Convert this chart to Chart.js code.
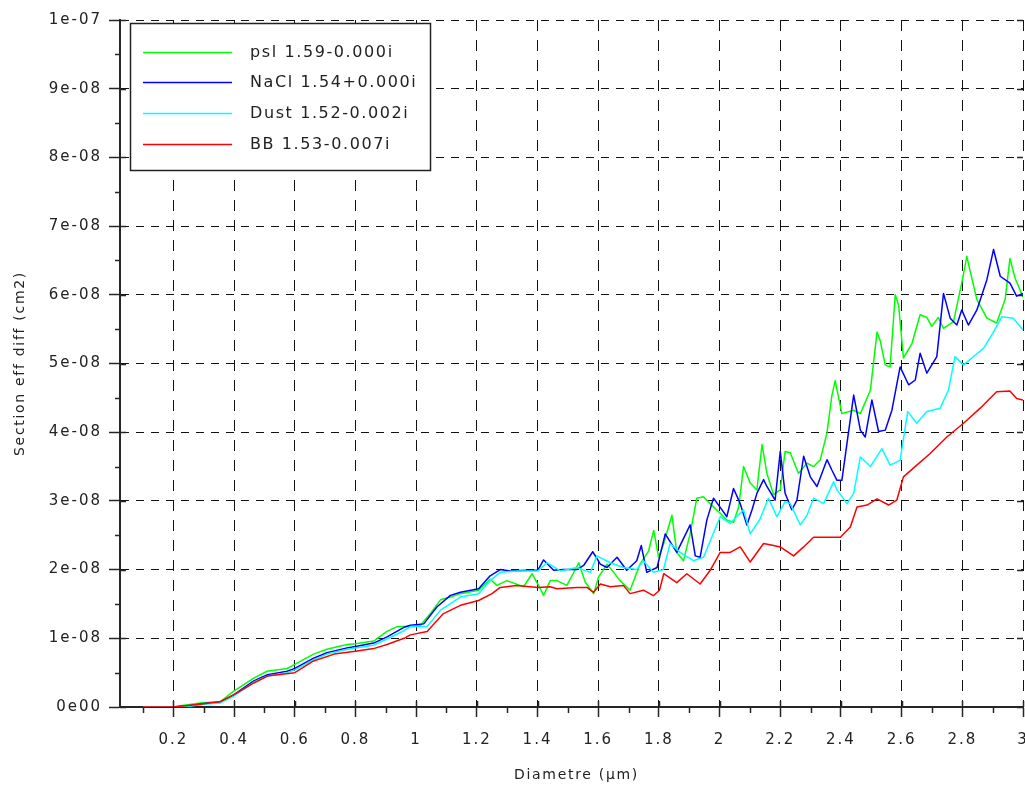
<!DOCTYPE html>
<html><head><meta charset="utf-8">
<script src="https://cdn.jsdelivr.net/npm/chart.js@4.4.1/dist/chart.umd.min.js"></script>
<style>html,body{margin:0;padding:0;background:#fff;overflow:hidden}canvas{display:block}</style>
</head><body>
<canvas id="c" width="1025" height="787"></canvas>
<script>
// ---- data (y values in units of 1e-8 cm2, as on the axis) ----
const seriesNames = ['psl 1.59-0.000i', 'NaCl 1.54+0.000i', 'Dust 1.52-0.002i', 'BB 1.53-0.007i'];
const seriesColors = ['#00ff00', '#0000ff', '#00ffff', '#ff0000'];

const pslData = [[0.1,0],[0.2,0],[0.223,0.02],[0.289,0.06],[0.355,0.08],[0.399,0.23],[0.465,0.42],[0.509,0.52],[0.575,0.56],[0.6,0.62],[0.662,0.77],[0.706,0.84],[0.772,0.91],[0.8,0.92],[0.86,0.96],[0.904,1.1],[0.937,1.17],[0.981,1.17],[1.014,1.19],[1.047,1.36],[1.080,1.56],[1.113,1.6],[1.146,1.65],[1.206,1.70],[1.244,1.86],[1.266,1.77],[1.299,1.84],[1.354,1.75],[1.382,1.94],[1.401,1.79],[1.420,1.625],[1.442,1.84],[1.464,1.84],[1.497,1.77],[1.536,2.1],[1.557,1.82],[1.585,1.65],[1.601,1.89],[1.629,2.08],[1.651,1.96],[1.672,1.84],[1.705,1.70],[1.738,2.08],[1.766,2.27],[1.783,2.57],[1.799,2.18],[1.816,2.38],[1.843,2.79],[1.859,2.25],[1.881,2.13],[1.903,2.52],[1.925,3.04],[1.947,3.06],[1.969,2.96],[2.002,2.82],[2.024,2.72],[2.046,2.69],[2.063,2.91],[2.079,3.5],[2.101,3.26],[2.123,3.16],[2.140,3.82],[2.156,3.40],[2.178,3.09],[2.200,3.16],[2.216,3.72],[2.233,3.70],[2.260,3.40],[2.288,3.55],[2.310,3.50],[2.332,3.60],[2.354,3.99],[2.370,4.53],[2.381,4.75],[2.403,4.27],[2.442,4.32],[2.464,4.27],[2.497,4.61],[2.519,5.46],[2.529,5.34],[2.546,4.98],[2.562,4.95],[2.579,6.0],[2.590,5.85],[2.606,5.08],[2.634,5.29],[2.661,5.71],[2.683,5.67],[2.699,5.54],[2.721,5.67],[2.738,5.51],[2.771,5.61],[2.798,6.17],[2.815,6.56],[2.826,6.34],[2.848,5.93],[2.881,5.66],[2.913,5.59],[2.941,5.93],[2.957,6.53],[2.974,6.24],[3.0,5.97]];

const naclData = [[0.1,0],[0.2,0],[0.25,0.02],[0.3,0.05],[0.355,0.07],[0.4,0.18],[0.465,0.38],[0.51,0.47],[0.575,0.52],[0.6,0.56],[0.662,0.71],[0.706,0.79],[0.772,0.86],[0.8,0.88],[0.86,0.93],[0.904,1.02],[0.96,1.16],[0.981,1.19],[1.025,1.21],[1.069,1.46],[1.113,1.625],[1.146,1.67],[1.206,1.72],[1.244,1.91],[1.277,2.0],[1.31,1.98],[1.365,1.99],[1.401,1.99],[1.420,2.14],[1.453,1.99],[1.486,2.0],[1.53,2.0],[1.552,2.06],[1.582,2.26],[1.607,2.08],[1.629,2.03],[1.662,2.18],[1.694,1.99],[1.727,2.13],[1.742,2.35],[1.760,1.96],[1.794,2.03],[1.821,2.52],[1.859,2.25],[1.903,2.65],[1.920,2.2],[1.936,2.18],[1.958,2.72],[1.980,3.04],[2.008,2.87],[2.024,2.77],[2.046,3.18],[2.068,2.96],[2.090,2.65],[2.107,2.87],[2.123,3.11],[2.145,3.31],[2.156,3.21],[2.183,3.01],[2.200,3.72],[2.216,3.11],[2.238,2.87],[2.255,3.01],[2.277,3.65],[2.299,3.35],[2.321,3.21],[2.354,3.6],[2.370,3.45],[2.387,3.3],[2.403,3.3],[2.420,3.84],[2.442,4.54],[2.464,4.03],[2.480,3.93],[2.502,4.47],[2.524,4.01],[2.546,4.03],[2.568,4.32],[2.595,4.95],[2.623,4.69],[2.645,4.76],[2.661,5.15],[2.683,4.86],[2.716,5.10],[2.738,6.02],[2.760,5.66],[2.782,5.56],[2.798,5.78],[2.820,5.56],[2.848,5.78],[2.881,6.22],[2.903,6.66],[2.925,6.27],[2.957,6.17],[2.979,5.98],[3.0,6.02]];

const dustData = [[0.1,0],[0.2,0],[0.25,0.01],[0.3,0.04],[0.355,0.06],[0.4,0.16],[0.465,0.36],[0.51,0.45],[0.575,0.5],[0.6,0.54],[0.662,0.69],[0.706,0.77],[0.772,0.84],[0.8,0.86],[0.86,0.9],[0.904,0.99],[0.96,1.11],[0.981,1.17],[1.036,1.17],[1.080,1.41],[1.146,1.60],[1.206,1.65],[1.244,1.84],[1.277,1.96],[1.332,1.98],[1.401,1.98],[1.431,2.1],[1.475,1.98],[1.53,2.03],[1.574,1.96],[1.596,2.2],[1.640,2.1],[1.683,2.03],[1.727,2.0],[1.749,2.13],[1.782,1.96],[1.815,2.0],[1.837,2.38],[1.870,2.25],[1.914,2.13],[1.947,2.18],[2.002,2.77],[2.035,2.67],[2.079,2.87],[2.101,2.52],[2.134,2.74],[2.161,3.04],[2.189,2.77],[2.216,2.99],[2.233,2.96],[2.266,2.65],[2.288,2.79],[2.310,3.04],[2.343,2.96],[2.376,3.28],[2.387,3.16],[2.420,2.96],[2.442,3.11],[2.464,3.64],[2.497,3.5],[2.535,3.76],[2.562,3.52],[2.595,3.59],[2.620,4.30],[2.650,4.13],[2.683,4.30],[2.727,4.35],[2.754,4.61],[2.776,5.10],[2.804,4.98],[2.842,5.12],[2.870,5.22],[2.903,5.46],[2.930,5.68],[2.968,5.66],[3.0,5.49]];

const bbData = [[0.1,0],[0.2,0],[0.289,0.04],[0.355,0.08],[0.4,0.18],[0.465,0.35],[0.51,0.45],[0.6,0.5],[0.662,0.67],[0.73,0.77],[0.8,0.81],[0.86,0.85],[0.904,0.91],[0.96,1.0],[0.981,1.05],[1.036,1.1],[1.09,1.36],[1.146,1.48],[1.206,1.55],[1.25,1.65],[1.277,1.74],[1.332,1.77],[1.401,1.74],[1.442,1.75],[1.464,1.72],[1.53,1.74],[1.563,1.74],[1.585,1.67],[1.607,1.79],[1.640,1.75],[1.683,1.77],[1.705,1.65],[1.749,1.70],[1.782,1.62],[1.802,1.70],[1.816,1.94],[1.859,1.81],[1.892,1.94],[1.936,1.79],[1.969,1.99],[2.002,2.25],[2.035,2.25],[2.068,2.33],[2.101,2.11],[2.145,2.38],[2.178,2.35],[2.200,2.33],[2.244,2.2],[2.277,2.33],[2.310,2.47],[2.343,2.47],[2.398,2.47],[2.431,2.62],[2.453,2.91],[2.486,2.94],[2.519,3.03],[2.557,2.94],[2.584,3.01],[2.606,3.35],[2.650,3.52],[2.694,3.69],[2.749,3.93],[2.804,4.13],[2.859,4.35],[2.913,4.59],[2.957,4.60],[2.979,4.49],[3.0,4.47]];

const xTickValues = [0.2,0.4,0.6,0.8,1,1.2,1.4,1.6,1.8,2,2.2,2.4,2.6,2.8,3];
const xTickLabels = ['0.2','0.4','0.6','0.8','1','1.2','1.4','1.6','1.8','2','2.2','2.4','2.6','2.8','3'];
const yTickValues = [0,1,2,3,4,5,6,7,8,9,10];
const yTickLabels = ['0e00','1e-08','2e-08','3e-08','4e-08','5e-08','6e-08','7e-08','8e-08','9e-08','1e-07'];
const xTitle = 'Diametre (\u00b5m)';
const yTitle = 'Section eff diff (cm2)';

// ---- chart ----
Chart.defaults.font.family = '"DejaVu Sans", sans-serif';
const allData = [pslData, naclData, dustData, bbData];
const datasets = allData.map((d, i) => ({
  label: seriesNames[i],
  data: d.map(p => ({x: p[0], y: p[1]})),
  borderColor: seriesColors[i],
  backgroundColor: seriesColors[i],
  borderWidth: 1.5,
  pointRadius: 0,
  tension: 0,
  fill: false,
  order: allData.length - 1 - i
}));

const AXC = '#262626';
const decor = {
  id: 'decor',
  beforeDraw(chart) { chart.ctx.letterSpacing = '2px'; },
  afterDraw(chart) {
    const ctx = chart.ctx, xs = chart.scales.x, ys = chart.scales.y, a = chart.chartArea;
    ctx.save();
    ctx.strokeStyle = AXC; ctx.lineWidth = 1.5; ctx.setLineDash([]);
    ctx.beginPath();
    xTickValues.forEach(v => {
      const px = Math.round(xs.getPixelForValue(v)) + 0.5;
      ctx.moveTo(px, a.bottom); ctx.lineTo(px, a.bottom - 6);
      const pm = Math.round(xs.getPixelForValue(v - 0.1)) + 0.5;
      ctx.moveTo(pm, a.bottom); ctx.lineTo(pm, a.bottom + 6);
    });
    yTickValues.forEach(v => {
      const py = Math.round(ys.getPixelForValue(v)) + 0.5;
      ctx.moveTo(a.left, py); ctx.lineTo(a.left + 6, py);
      ctx.moveTo(a.right, py); ctx.lineTo(a.right - 6, py);
      if (v > 0) {
        const pm = Math.round(ys.getPixelForValue(v - 0.5)) + 0.5;
        ctx.moveTo(a.left, pm); ctx.lineTo(a.left - 5, pm);
      }
    });
    ctx.stroke();

    // legend box
    const L = {x: 130.5, y: 23.5, w: 300, h: 147};
    ctx.fillStyle = '#fff';
    ctx.fillRect(L.x, L.y, L.w, L.h);
    ctx.strokeStyle = '#222'; ctx.lineWidth = 1.5;
    ctx.strokeRect(L.x, L.y, L.w, L.h);
    ctx.font = '16px "DejaVu Sans"';
    ctx.letterSpacing = '1.6px';
    ctx.textBaseline = 'middle'; ctx.textAlign = 'left';
    chart.data.datasets.forEach((ds, i) => {
      const ry = L.y + 28 + i * 30.8;
      ctx.strokeStyle = ds.borderColor; ctx.lineWidth = 1.5;
      ctx.beginPath(); ctx.moveTo(143, Math.round(ry) + 0.5); ctx.lineTo(232, Math.round(ry) + 0.5); ctx.stroke();
      ctx.fillStyle = '#222';
      ctx.fillText(ds.label, 250, ry + 1);
    });

    // axis titles
    ctx.font = '14px "DejaVu Sans"';
    ctx.letterSpacing = '1.7px';
    ctx.fillStyle = '#222';
    ctx.textAlign = 'center'; ctx.textBaseline = 'middle';
    ctx.fillText(xTitle, (a.left + a.right) / 2 + 5, 775);
    ctx.translate(20, (a.top + a.bottom) / 2);
    ctx.rotate(-Math.PI / 2);
    ctx.fillText(yTitle, 0, 0);
    ctx.restore();
    ctx.letterSpacing = '0px';
  }
};

new Chart(document.getElementById('c'), {
  type: 'line',
  data: {datasets},
  plugins: [decor],
  options: {
    responsive: false,
    animation: false,
    devicePixelRatio: 1,
    layout: {padding: {left: 0, right: 2, top: 20, bottom: 0}},
    plugins: {legend: {display: false}, tooltip: {enabled: false}},
    elements: {line: {borderJoinStyle: 'round'}},
    scales: {
      x: {
        type: 'linear', min: 0.024, max: 3,
        afterBuildTicks: s => { s.ticks = xTickValues.map(v => ({value: v})); },
        afterFit: s => { s.height = 80; s.paddingLeft = 0; s.paddingRight = 0; },
        ticks: {callback: (v, i) => xTickLabels[i], color: '#222', font: {size: 15}, padding: 14, maxRotation: 0, autoSkip: false},
        grid: {color: '#111', lineWidth: 1, tickLength: 10, tickColor: AXC, tickWidth: 1.5},
        border: {display: true, color: AXC, width: 2, dash: [11, 9]}
      },
      y: {
        type: 'linear', min: 0, max: 10,
        afterBuildTicks: s => { s.ticks = yTickValues.map(v => ({value: v})); },
        afterFit: s => { s.width = 120; s.paddingTop = 0; s.paddingBottom = 0; },
        ticks: {callback: (v, i) => yTickLabels[i], color: '#222', font: {size: 15}, padding: 7, autoSkip: false},
        grid: {color: '#111', lineWidth: 1, tickLength: 11, tickColor: AXC, tickWidth: 1.5},
        border: {display: true, color: AXC, width: 2, dash: [8, 7]}
      }
    }
  }
});
</script>
</body></html>
